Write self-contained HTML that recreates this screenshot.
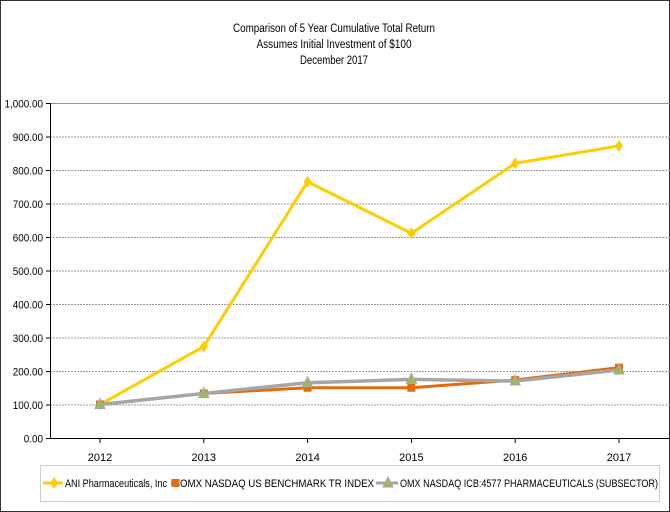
<!DOCTYPE html>
<html><head><meta charset="utf-8"><style>
body{margin:0;background:#fff;}
svg{display:block;font-family:"Liberation Sans",sans-serif;}
</style></head><body>
<svg width="670" height="512">
<rect x="0.5" y="0.5" width="669" height="511" fill="#fff" stroke="#333"/>
<g font-size="11.5" text-anchor="middle" fill="#000">
<text x="334" y="32" textLength="202" lengthAdjust="spacingAndGlyphs">Comparison of 5 Year Cumulative Total Return</text>
<text x="334" y="48" textLength="155" lengthAdjust="spacingAndGlyphs">Assumes Initial Investment of $100</text>
<text x="334" y="64" textLength="68" lengthAdjust="spacingAndGlyphs">December 2017</text>
</g>
<g id="grid"></g><g id="axes"></g><g id="series"></g>
<rect x="40.5" y="465.5" width="619" height="36" fill="#fff" stroke="#ccc"/>
<g id="legend"></g>
</svg>
<script>
const years=['2012','2013','2014','2015','2016','2017'];
const aniValues=[100,273,765,611,820,872];
const benchmarkValues=[100,133,150,150,173,210];
const pharmaValues=[100,133,165,175,170,203];
const yTicks=[0,100,200,300,400,500,600,700,800,900,1000];
const ns='http://www.w3.org/2000/svg';
const x0=50,x1=670,yTop=103,yBot=438;
const xs=i=>100+i*(619-100)/(years.length-1);
const ys=v=>yBot-(v/1000)*(yBot-yTop);
function el(t,a,p){const e=document.createElementNS(ns,t);for(const k in a)e.setAttribute(k,a[k]);p.appendChild(e);return e;}
const grid=document.getElementById('grid'),axes=document.getElementById('axes'),ser=document.getElementById('series'),leg=document.getElementById('legend');
yTicks.forEach(v=>{
 const y=ys(v)+0.5;
 if(v>0){const g=el('line',{x1:x0,x2:x1,y1:y,y2:y,stroke:'#999','stroke-dasharray':v==1000?'':'2,1'},grid);
 
 }
 el('line',{x1:x0-4,x2:x0,y1:y,y2:y,stroke:'#000'},axes);
 const t=el('text',{x:x0-7,y:y+4,'font-size':11,'text-anchor':'end'},axes);
 t.setAttribute('transform',`translate(${(x0-7)},0) scale(0.9,1) translate(${-(x0-7)},0)`);
 t.textContent=v.toLocaleString('en-US',{minimumFractionDigits:2,maximumFractionDigits:2});
 
 
});
const ya=el('line',{x1:x0+0.5,x2:x0+0.5,y1:yTop,y2:yBot,stroke:'#000'},axes);


const xa=el('line',{x1:x0,x2:x1,y1:yBot+0.5,y2:yBot+0.5,stroke:'#000'},axes);


years.forEach((yr,i)=>{
 el('line',{x1:xs(i),x2:xs(i),y1:yBot,y2:yBot+5,stroke:'#000'},axes);
 const t=el('text',{x:xs(i),y:yBot+23,'font-size':11,'text-anchor':'middle'},axes);
 t.textContent=yr;
 
 
});
const series=[
 {name:'ani',vals:aniValues,color:'#FFCC00',marker:'diamond',w:3},
 {name:'benchmark',vals:benchmarkValues,color:'#E36C0A',marker:'square',w:3},
 {name:'pharma',vals:pharmaValues,color:'#A6A6A6',marker:'triangle',w:3.5}];
function marker(s,x,y,p){
 if(s.marker=='diamond')return el('path',{d:`M${x} ${y-6}L${x+4} ${y}L${x} ${y+6}L${x-4} ${y}Z`,fill:s.color},p);
 if(s.marker=='square')return el('rect',{x:x-4,y:y-4,width:8,height:8,fill:s.color},p);
 return el('path',{d:`M${x} ${y-6}L${x+5} ${y+4}L${x-5} ${y+4}Z`,fill:'#9BBB59',stroke:'#A6A6A6'},p);
}
series.forEach(s=>{
 const g=el('g',{},ser);
 
 
 const l=el('polyline',{points:s.vals.map((v,i)=>xs(i)+','+ys(v)).join(' '),fill:'none',stroke:s.color,'stroke-width':s.w},g);
 
 
 s.vals.forEach((v,i)=>{const m=marker(s,xs(i),ys(v),g);
 
 });
});
const labels=['ANI Pharmaceuticals, Inc','OMX NASDAQ US BENCHMARK TR INDEX','OMX NASDAQ ICB:4577 PHARMACEUTICALS (SUBSECTOR)'];
const lx=[43,171,376];
const tx=[65,180,400];
const tw=[102,194,258];
series.forEach((s,i)=>{
 const g=el('g',{},leg);
 
 
 el('line',{x1:lx[i],x2:tx[i]-2,y1:483,y2:483,stroke:s.color,'stroke-width':3},g);
 marker(s,(lx[i]+tx[i])/2,483,g);
 const t=el('text',{x:tx[i],y:487,'font-size':11,textLength:tw[i],lengthAdjust:'spacingAndGlyphs'},g);
 t.textContent=labels[i];
});
</script>
</body></html>
